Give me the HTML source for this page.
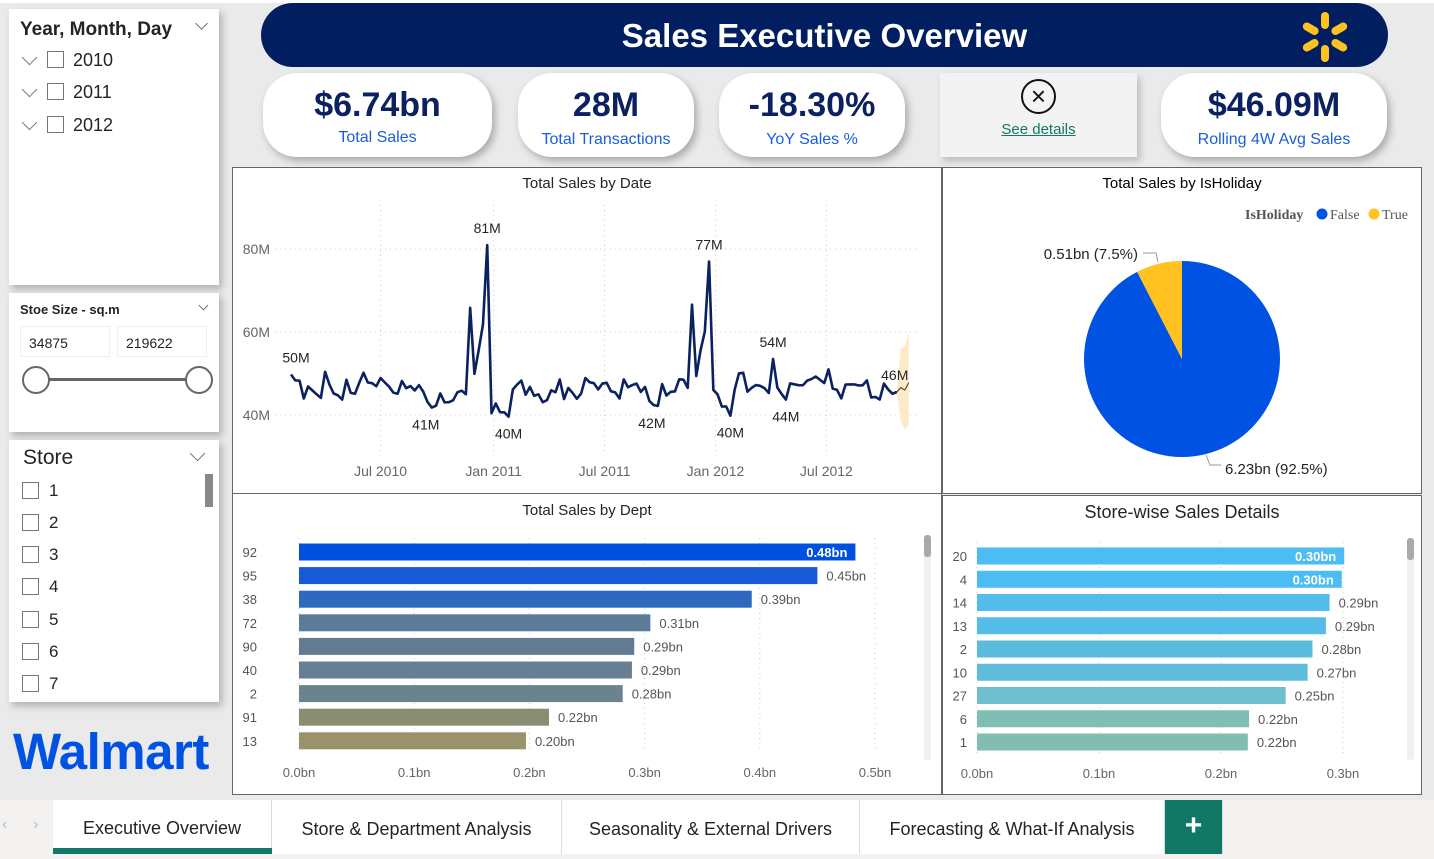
<!DOCTYPE html>
<html><head><meta charset="utf-8">
<style>
*{box-sizing:border-box;margin:0;padding:0}
body{width:1434px;height:859px;overflow:hidden;background:#eaeaea;font-family:"Liberation Sans",sans-serif;position:relative;color:#252423}
.abs{position:absolute}
.card{position:absolute;background:#fff;box-shadow:3px 4px 7px rgba(0,0,0,.25)}
.kpi{position:absolute;background:#fff;border-radius:34px;box-shadow:3px 4px 8px rgba(0,0,0,.28);text-align:center}
.kpi .v{font-weight:bold;color:#0b2160;font-size:34px;margin-top:12px;line-height:40px}
.kpi .l{color:#1a5ee0;font-size:16px;margin-top:4px}
.cb{position:absolute;width:17px;height:17px;border:1.5px solid #777;background:#fff}
.panel{position:absolute;background:#fff;border:1px solid #666}
.tab{position:absolute;top:800px;height:54px;background:#fff;border-right:1px solid #ddd;font-size:18px;color:#252423;text-align:center;line-height:58px}
.chev{position:absolute;width:9px;height:9px;border-right:1.3px solid #777;border-bottom:1.3px solid #777;transform:rotate(45deg)}
</style></head><body>
<div class="abs" style="left:0;top:0;width:1434px;height:3px;background:#fff"></div>

<!-- slicer 1 -->
<div class="card" style="left:9px;top:9px;width:210px;height:276px">
 <div class="abs" style="left:11px;top:10px;font-size:19px;font-weight:bold">Year, Month, Day</div>
 <div class="chev" style="left:188px;top:10px"></div>
 <div><div class="chev" style="left:15px;top:43px;width:11px;height:11px"></div><div class="cb" style="left:38px;top:42px"></div><div class="abs" style="left:64px;top:41px;font-size:18px">2010</div></div>
 <div><div class="chev" style="left:15px;top:75px;width:11px;height:11px"></div><div class="cb" style="left:38px;top:74px"></div><div class="abs" style="left:64px;top:73px;font-size:18px">2011</div></div>
 <div><div class="chev" style="left:15px;top:108px;width:11px;height:11px"></div><div class="cb" style="left:38px;top:107px"></div><div class="abs" style="left:64px;top:106px;font-size:18px">2012</div></div>
</div>
<!-- slicer 2 -->
<div class="card" style="left:9px;top:293px;width:210px;height:139px">
 <div class="abs" style="left:11px;top:9px;font-size:13px;font-weight:bold">Stoe Size - sq.m</div>
 <div class="chev" style="left:191px;top:9px;width:7px;height:7px"></div>
 <div class="abs" style="left:11px;top:33px;width:90px;height:31px;border:1px solid #eee;font-size:14px;padding:8px 8px">34875</div>
 <div class="abs" style="left:108px;top:33px;width:90px;height:31px;border:1px solid #eee;font-size:14px;padding:8px 8px">219622</div>
 <div class="abs" style="left:26px;top:85px;width:165px;height:3px;background:#666"></div>
 <div class="abs" style="left:13px;top:73px;width:28px;height:28px;border-radius:50%;border:2px solid #666;background:#fff"></div>
 <div class="abs" style="left:176px;top:73px;width:28px;height:28px;border-radius:50%;border:2px solid #666;background:#fff"></div>
</div>
<!-- store slicer -->
<div class="card" style="left:9px;top:440px;width:210px;height:262px">
 <div class="abs" style="left:14px;top:6px;font-size:21px">Store</div>
 <div class="chev" style="left:183px;top:8px;width:11px;height:11px"></div>
 <div class="abs" style="left:196px;top:34px;width:8px;height:33px;background:#888"></div>
 <div><div class="cb" style="left:13px;top:42px"></div><div class="abs" style="left:40px;top:41px;font-size:17px">1</div></div>
 <div><div class="cb" style="left:13px;top:74px"></div><div class="abs" style="left:40px;top:73px;font-size:17px">2</div></div>
 <div><div class="cb" style="left:13px;top:106px"></div><div class="abs" style="left:40px;top:105px;font-size:17px">3</div></div>
 <div><div class="cb" style="left:13px;top:138px"></div><div class="abs" style="left:40px;top:137px;font-size:17px">4</div></div>
 <div><div class="cb" style="left:13px;top:171px"></div><div class="abs" style="left:40px;top:170px;font-size:17px">5</div></div>
 <div><div class="cb" style="left:13px;top:203px"></div><div class="abs" style="left:40px;top:202px;font-size:17px">6</div></div>
 <div><div class="cb" style="left:13px;top:235px"></div><div class="abs" style="left:40px;top:234px;font-size:17px">7</div></div>
</div>
<div class="abs" style="left:13px;top:722px;font-size:51px;font-weight:bold;color:#0053e2;letter-spacing:-0.5px">Walmart</div>

<!-- header -->
<div class="abs" style="left:261px;top:3px;width:1127px;height:64px;background:#001e60;border-radius:32px">
 <div class="abs" style="left:0;width:1127px;top:14px;text-align:center;color:#fff;font-weight:bold;font-size:33px">Sales Executive Overview</div>
 <svg class="abs" style="left:1036px;top:6px" width="56" height="56" viewBox="-28 -28 56 56">
  <g fill="#ffc220"><rect x="-4" y="-25" width="8" height="17" rx="4" transform="rotate(0)"/><rect x="-4" y="-25" width="8" height="17" rx="4" transform="rotate(60)"/><rect x="-4" y="-25" width="8" height="17" rx="4" transform="rotate(120)"/><rect x="-4" y="-25" width="8" height="17" rx="4" transform="rotate(180)"/><rect x="-4" y="-25" width="8" height="17" rx="4" transform="rotate(240)"/><rect x="-4" y="-25" width="8" height="17" rx="4" transform="rotate(300)"/></g>
 </svg>
</div>
<!-- KPIs -->
<div class="kpi" style="left:263px;top:73px;width:229px;height:84px"><div class="v">$6.74bn</div><div class="l">Total Sales</div></div>
<div class="kpi" style="left:518px;top:73px;width:176px;height:84px"><div class="v">28M</div><div class="l" style="margin-top:6px">Total Transactions</div></div>
<div class="kpi" style="left:719px;top:73px;width:186px;height:84px"><div class="v">-18.30%</div><div class="l" style="margin-top:6px">YoY Sales %</div></div>
<div class="abs" style="left:940px;top:73px;width:197px;height:84px;background:#f3f3f3;box-shadow:3px 4px 7px rgba(0,0,0,.2);text-align:center">
 <div class="abs" style="left:81px;top:6px;width:35px;height:35px;border:2px solid #111;border-radius:50%;font-size:26px;line-height:30px;color:#111">&#215;</div>
 <div class="abs" style="left:0;width:197px;top:48px;font-size:15px;color:#117865;text-decoration:underline">See details</div>
</div>
<div class="kpi" style="left:1161px;top:73px;width:226px;height:84px"><div class="v">$46.09M</div><div class="l" style="margin-top:6px">Rolling 4W Avg Sales</div></div>

<!-- panels -->
<div class="panel" style="left:232px;top:167px;width:710px;height:327px"></div>
<div class="panel" style="left:942px;top:167px;width:480px;height:327px"></div>
<div class="panel" style="left:232px;top:493px;width:710px;height:302px"></div>
<div class="panel" style="left:942px;top:495px;width:480px;height:300px"></div>

<svg id="chart" class="abs" style="left:0;top:0" width="1434" height="859"></svg>

<!-- tabs -->
<div class="abs" style="left:0;top:800px;width:1434px;height:59px;background:#f3f2f1"></div>
<div class="abs" style="left:2px;top:816px;color:#bbb;font-size:16px">&#8249;</div>
<div class="abs" style="left:33px;top:816px;color:#bbb;font-size:16px">&#8250;</div>
<div class="tab" style="left:53px;width:219px;line-height:56px">Executive Overview<div class="abs" style="left:0;bottom:0;width:219px;height:6px;background:#117865"></div></div>
<div class="tab" style="left:272px;width:290px">Store &amp; Department Analysis</div>
<div class="tab" style="left:562px;width:298px">Seasonality &amp; External Drivers</div>
<div class="tab" style="left:860px;width:305px">Forecasting &amp; What-If Analysis</div>
<div class="tab" style="left:1165px;width:58px;background:#117865;color:#fff;font-size:30px;font-weight:bold;line-height:52px">+</div>

<script>
// ---- Line chart data (weekly total sales, M) ----
const weeklySales = [49.75,48.34,48.28,43.97,46.87,45.93,44.99,44.13,50.42,47.37,45.18,44.73,43.71,48.50,45.33,45.12,47.76,50.19,47.83,47.67,46.94,48.92,47.83,46.82,45.38,45.13,48.19,46.47,46.97,45.91,47.19,45.63,43.13,41.79,42.24,45.19,43.04,43.09,43.54,45.47,45.86,45.0,65.82,49.91,55.67,61.82,80.93,40.43,
42.78,40.67,40.65,39.6,46.15,47.34,48.28,44.89,46.76,44.63,44.99,43.1,43.56,45.96,45.48,48.55,43.84,46.52,45.34,43.92,45.13,48.91,47.9,47.67,46.16,47.58,47.76,45.71,45.45,43.99,48.58,46.68,47.21,47.57,45.55,46.76,43.39,42.39,42.19,47.44,44.69,45.59,45.67,48.6,48.52,46.54,66.59,49.39,55.56,60.09,76.99,46.04,
44.96,42.02,42.08,39.83,46.08,50.01,50.17,45.62,46.56,47.21,47.03,46.46,45.3,53.5,46.63,45.07,43.72,47.6,47.4,47.18,47.17,48.28,48.66,49.27,48.49,47.68,51.0,46.34,46.04,44.0,47.34,47.38,47.37,47.13,47.16,48.33,44.23,44.35,43.73,47.57,46.13,45.12,45.54];
const forecastMid = [45.54,46.6,46.0,47.8];
const forecastLow = [45.54,38.5,36.5,37.5];
const forecastHigh = [45.54,56.0,56.5,60.0];
const yTicks = [40,60,80];
const xTickLabels = ["Jul 2010","Jan 2011","Jul 2011","Jan 2012","Jul 2012"];
const xTickWeeks = [21,47.5,73.5,99.5,125.5];
const pointLabels = [[0,"50M"],[33,"41M"],[46,"81M"],[51,"40M"],[86,"42M"],[98,"77M"],[103,"40M"],[113,"54M"],[116,"44M"],[142,"46M"]];
// ---- Pie data ----
const holidayCats = ["False","True"];
const holidayVals = [6.23,0.51];
const holidayLabels = ["6.23bn (92.5%)","0.51bn (7.5%)"];
// ---- Dept bar data ----
const depts = ["92","95","38","72","90","40","2","91","13"];
const deptVals = [0.483,0.450,0.393,0.305,0.291,0.289,0.281,0.217,0.197];
const deptLbls = ["0.48bn","0.45bn","0.39bn","0.31bn","0.29bn","0.29bn","0.28bn","0.22bn","0.20bn"];
const deptTicks = [0,0.1,0.2,0.3,0.4,0.5];
// ---- Store bar data ----
const stores = ["20","4","14","13","2","10","27","6","1"];
const storeVals = [0.301,0.299,0.289,0.286,0.275,0.271,0.253,0.223,0.222];
const storeLbls = ["0.30bn","0.30bn","0.29bn","0.29bn","0.28bn","0.27bn","0.25bn","0.22bn","0.22bn"];
const storeTicks = [0,0.1,0.2,0.3];

const svg=document.getElementById('chart');
const NS="http://www.w3.org/2000/svg";
function mk(tag,attrs,parent){const e=document.createElementNS(NS,tag);for(const k in attrs)e.setAttribute(k,attrs[k]);(parent||svg).appendChild(e);return e;}
function txt(x,y,s,attrs){const t=mk('text',Object.assign({x:x,y:y,'font-family':'Liberation Sans, sans-serif'},attrs||{}));t.textContent=s;return t;}

// ---- line chart ----
const lx=w=>291+w*4.266;
const ly=v=>415-(v-40)*4.15;
let t=txt(587,188,"Total Sales by Date",{'font-size':15,'text-anchor':'middle',fill:'#252423'});


yTicks.forEach(v=>{
 const g=mk('line',{x1:275,x2:920,y1:ly(v),y2:ly(v),stroke:'#ccc','stroke-dasharray':'1 4'});
 
 
 const l=txt(270,ly(v)+5,v+"M",{'font-size':14,'text-anchor':'end',fill:'#666'});
 
 
});
xTickLabels.forEach((s,i)=>{
 const x=lx(xTickWeeks[i]);
 const g=mk('line',{x1:x,x2:x,y1:205,y2:455,stroke:'#ccc','stroke-dasharray':'1 4'});
 
 
 const l=txt(x,476,s,{'font-size':14,'text-anchor':'middle',fill:'#666'});
 
 
});
// forecast band
const n=weeklySales.length-1;
const fx=i=>lx(n)+i*4;
let bp=forecastHigh.map((v,i)=>fx(i)+','+ly(v)).join(' ')+' '+forecastLow.map((v,i)=>fx(i)+','+ly(v)).reverse().join(' ');
const band=mk('polygon',{points:bp,fill:'#fdebc8'});


const fl=mk('polyline',{points:forecastMid.map((v,i)=>fx(i)+','+ly(v)).join(' '),fill:'none',stroke:'#333','stroke-width':1});


const line=mk('polyline',{points:weeklySales.map((v,i)=>lx(i)+','+ly(v)).join(' '),fill:'none',stroke:'#0b2160','stroke-width':2.6,'stroke-linejoin':'round'});


pointLabels.forEach(([i,s])=>{
 const v=weeklySales[i];
 const hi = (i===0||i===46||i===98||i===113||i===142);
 const dx = i===0?5:(i===142?-2:(i===33?-6:(i===86?-6:0)));
 const l=txt(lx(i)+dx,hi?ly(v)-12:ly(v)+22,s,{'font-size':14,'text-anchor':'middle',fill:'#252423'});
 
 
});

// ---- pie ----
t=txt(1182,188,"Total Sales by IsHoliday",{'font-size':15,'text-anchor':'middle'});


t=txt(1245,219,"IsHoliday",{'font-size':14,'font-weight':'bold',fill:'#555','font-family':'Liberation Serif, serif'});


const pieColors=["#0053e2","#ffc220"];
const legX=[1322,1374];
holidayCats.forEach((c,i)=>{
 const d=mk('circle',{cx:legX[i],cy:214,r:5.5,fill:pieColors[i]});
 
 
 const l=txt(legX[i]+8,219,c,{'font-size':14,fill:'#555','font-family':'Liberation Serif, serif'});
 
 
});
const cx=1182,cy=359,R=98,tot=holidayVals.reduce((a,b)=>a+b,0);
let a0=0;
holidayVals.forEach((v,i)=>{
 const a1=a0+v/tot*2*Math.PI;
 const p=(a)=>[cx+R*Math.sin(a),cy-R*Math.cos(a)];
 const [x0,y0]=p(a0),[x1,y1]=p(a1);
 const s=mk('path',{d:`M${cx},${cy} L${x0},${y0} A${R},${R} 0 ${a1-a0>Math.PI?1:0} 1 ${x1},${y1} Z`,fill:pieColors[i]});
 
 
 a0=a1;
});
let l1=txt(1225,474,holidayLabels[0],{'font-size':15,fill:'#252423'});


mk('polyline',{points:'1206,455 1210,465 1221,465',fill:'none',stroke:'#999'});
l1=txt(1138,259,holidayLabels[1],{'font-size':15,fill:'#252423','text-anchor':'end'});


mk('polyline',{points:'1143,253 1156,253 1158,262',fill:'none',stroke:'#999'});

// ---- bar charts ----
function bars(o){
 const tt=txt(o.titleX,o.titleY,o.title,{'font-size':o.titleSize,'text-anchor':'middle',fill:'#252423'});
 
 
 const bx=v=>o.x0+v*o.scale;
 o.ticks.forEach(v=>{
  const g=mk('line',{x1:bx(v),x2:bx(v),y1:o.y0-14,y2:o.y0+o.step*(o.cats.length-1)+12,stroke:'#ccc','stroke-dasharray':'1 4'});
  
  
  const l=txt(bx(v),o.axisY,v.toFixed(1)+"bn",{'font-size':13,'text-anchor':'middle',fill:'#666'});
  
  
 });
 o.cats.forEach((c,i)=>{
  const y=o.y0+i*o.step;
  const r=mk('rect',{x:o.x0,y:y-8.5,width:o.vals[i]*o.scale,height:17,fill:o.colors[i]});
  
  
  const cl=txt(o.catX,y+5,c,{'font-size':13,'text-anchor':'end',fill:'#555'});
  
  
  const inside=i<o.inside;
  const vl=txt(inside?bx(o.vals[i])-8:bx(o.vals[i])+9,y+5,o.lbls[i],{'font-size':13,'text-anchor':inside?'end':'start',fill:inside?'#fff':'#555','font-weight':inside?'bold':'normal'});
  
  
 });
 const sb=mk('rect',{x:o.sbX,y:o.sbY,width:7,height:o.sbH,rx:3,fill:'#f0f0f0'});
 
 
 const th=mk('rect',{x:o.sbX,y:o.sbY,width:7,height:22,rx:3,fill:'#aaa'});
 
 
}
bars({key:'dept',title:'Total Sales by Dept',titleX:587,titleY:515,titleSize:15,cats:depts,vals:deptVals,lbls:deptLbls,ticks:deptTicks,
 x0:299,scale:1152,y0:552,step:23.6,catX:257,axisY:777,inside:1,sbX:924,sbY:535,sbH:225,
 colors:["#0050e0","#175ad6","#2f68bf","#5b7b99","#637b92","#677f92","#6b838f","#8b8d72","#99936c"]});
bars({key:'store',title:'Store-wise Sales Details',titleX:1182,titleY:518,titleSize:18,cats:stores,vals:storeVals,lbls:storeLbls,ticks:storeTicks,
 x0:977,scale:1220,y0:556,step:23.25,catX:967,axisY:778,inside:2,sbX:1407,sbY:538,sbH:222,
 colors:["#4bbcf4","#4bbcf4","#52bcec","#55bbe8","#5bbbdf","#5fbcdb","#6fbfce","#7fbeb3","#82bdb2"]});
</script>
</body></html>
